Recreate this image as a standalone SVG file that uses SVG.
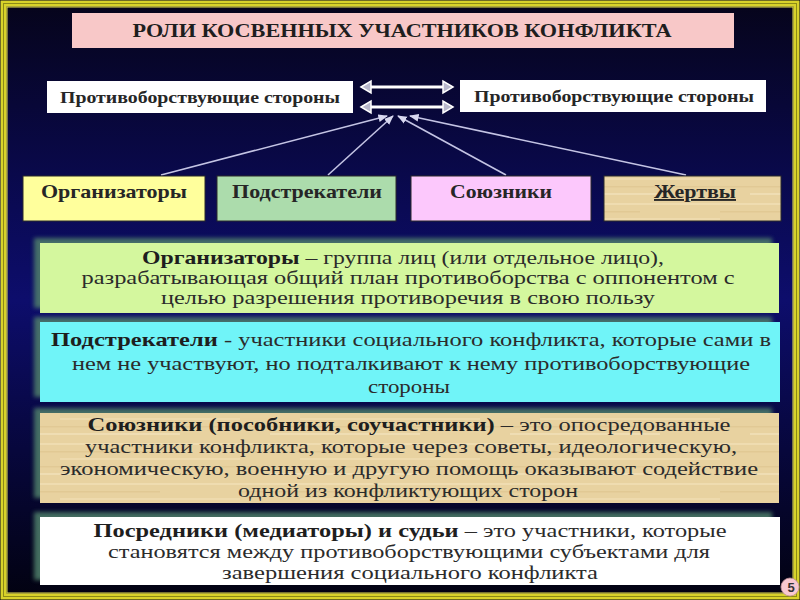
<svg xmlns="http://www.w3.org/2000/svg" width="800" height="600" viewBox="0 0 800 600">
<style>
.t{font-family:"Liberation Serif","Times New Roman",serif;fill:#2b2b2b;text-anchor:middle}
.b{font-weight:bold;fill:#1e1e1e}
.body{font-size:19px}
.cat{font-size:19px;font-weight:bold;fill:#262626}
.top{font-size:17px;font-weight:bold;fill:#262626}
.conn{stroke:#c4c4e4;stroke-width:1.6;fill:none}
.dbl{stroke:#ffffff;stroke-width:3;fill:none}
.head{fill:#b8b8cc;stroke:#ffffff;stroke-width:1.5}
.catbox{stroke:#2a2a2a;stroke-width:1}
.shadow{fill:#4f806a;opacity:0.85}
</style>
<defs>
<linearGradient id="bg" x1="0" y1="0" x2="0" y2="1">
<stop offset="0" stop-color="#06041a"/>
<stop offset="0.35" stop-color="#0a0a55"/>
<stop offset="0.5" stop-color="#0d0d6c"/>
<stop offset="0.7" stop-color="#080845"/>
<stop offset="1" stop-color="#020210"/>
</linearGradient>
<pattern id="papyrus" width="240" height="40" patternUnits="userSpaceOnUse">
<rect width="240" height="40" fill="#e8d2a0"/>
<rect y="3" width="240" height="2" fill="#f3e2bb" opacity="0.6"/>
<rect y="11" width="160" height="1.5" fill="#d9bf88" opacity="0.5"/>
<rect x="60" y="18" width="180" height="2" fill="#f2dfb5" opacity="0.6"/>
<rect y="26" width="240" height="1.5" fill="#d6bb85" opacity="0.4"/>
<rect x="30" y="33" width="150" height="2" fill="#f4e4c0" opacity="0.6"/>
</pattern>
<filter id="glow" x="-10%" y="-30%" width="120%" height="160%">
<feGaussianBlur stdDeviation="2"/>
</filter>
<marker id="ah" viewBox="0 0 10 10" refX="9" refY="5" markerWidth="6" markerHeight="6" orient="auto-start-reverse">
<path d="M0,1 L10,5 L0,9 z" fill="#d8d8f0"/>
</marker>
</defs>

<rect x="0" y="0" width="800" height="600" fill="url(#bg)"/>
<rect x="3.5" y="3.5" width="793" height="593" fill="none" stroke="#d8d22a" stroke-width="6"/>
<rect x="3.5" y="3.5" width="793" height="593" fill="none" stroke="#8c8a18" stroke-width="1"/>
<rect x="7" y="7" width="786" height="586" fill="none" stroke="#e8e250" stroke-width="1"/>

<g id="title">
<rect x="72" y="13" width="662" height="35" fill="#f8c8c8"/>
<text class="t b" x="402" y="37" font-size="19" textLength="539" lengthAdjust="spacingAndGlyphs">РОЛИ КОСВЕННЫХ УЧАСТНИКОВ КОНФЛИКТА</text>
</g>

<g id="side-left">
<rect x="47" y="81" width="306" height="32" fill="#ffffff"/>
<text class="t top" x="200" y="103" textLength="280" lengthAdjust="spacingAndGlyphs">Противоборствующие стороны</text>
</g>
<g id="side-right">
<rect x="460" y="80" width="306" height="32" fill="#ffffff"/>
<text class="t top" x="614" y="102" textLength="280" lengthAdjust="spacingAndGlyphs">Противоборствующие стороны</text>
</g>

<g id="connectors">
<line class="dbl" x1="368" y1="87" x2="446" y2="87"/>
<polygon class="head" points="361,87 371,81 371,93"/>
<polygon class="head" points="453,87 443,81 443,93"/>
<line class="dbl" x1="368" y1="107" x2="446" y2="107"/>
<polygon class="head" points="361,107 371,101 371,113"/>
<polygon class="head" points="453,107 443,101 443,113"/>
<line class="conn" x1="161" y1="175" x2="387" y2="116" marker-end="url(#ah)"/>
<line class="conn" x1="328" y1="175" x2="393" y2="116" marker-end="url(#ah)"/>
<line class="conn" x1="506" y1="175" x2="398" y2="116" marker-end="url(#ah)"/>
<line class="conn" x1="686" y1="175" x2="410" y2="116" marker-end="url(#ah)"/>
</g>

<g id="cat-organizers">
<rect class="catbox" x="23" y="176" width="182" height="45" fill="#ffff9c"/>
<text class="t cat" x="114" y="198" textLength="146" lengthAdjust="spacingAndGlyphs">Организаторы</text>
</g>
<g id="cat-instigators">
<rect class="catbox" x="217" y="176" width="179" height="45" fill="#acdcac"/>
<text class="t cat" x="307" y="198" textLength="150" lengthAdjust="spacingAndGlyphs">Подстрекатели</text>
</g>
<g id="cat-allies">
<rect class="catbox" x="411" y="176" width="180" height="45" fill="#fcc8fc"/>
<text class="t cat" x="501" y="198" textLength="102" lengthAdjust="spacingAndGlyphs">Союзники</text>
</g>
<g id="cat-victims">
<rect class="catbox" x="604" y="176" width="177" height="45" fill="url(#papyrus)"/>
<text class="t cat" x="695" y="198" textLength="82" lengthAdjust="spacingAndGlyphs" text-decoration="underline">Жертвы</text>
</g>

<g id="def-organizers">
<rect class="shadow" x="34" y="238" width="738" height="70" filter="url(#glow)"/>
<rect x="40" y="243" width="739" height="70" fill="#d4f79e"/>
<text class="t body" x="403" y="264" textLength="522" lengthAdjust="spacingAndGlyphs"><tspan class="b">Организаторы</tspan> – группа лиц (или отдельное лицо),</text>
<text class="t body" x="408" y="284" textLength="653" lengthAdjust="spacingAndGlyphs">разрабатывающая общий план противоборства с оппонентом с</text>
<text class="t body" x="408" y="304" textLength="494" lengthAdjust="spacingAndGlyphs">целью разрешения противоречия в свою пользу</text>
</g>

<g id="def-instigators">
<rect class="shadow" x="34" y="317" width="738" height="80" filter="url(#glow)"/>
<rect x="40" y="322" width="740" height="80" fill="#70f4f8"/>
<text class="t body" x="411" y="346" textLength="720" lengthAdjust="spacingAndGlyphs"><tspan class="b">Подстрекатели</tspan> - участники социального конфликта, которые сами в</text>
<text class="t body" x="411" y="370" textLength="678" lengthAdjust="spacingAndGlyphs">нем не участвуют, но подталкивают к нему противоборствующие</text>
<text class="t body" x="409" y="393" textLength="82" lengthAdjust="spacingAndGlyphs">стороны</text>
</g>

<g id="def-allies">
<rect class="shadow" x="34" y="408" width="738" height="90" filter="url(#glow)"/>
<rect x="40" y="413" width="739" height="90" fill="url(#papyrus)"/>
<text class="t body" x="409" y="431" textLength="643" lengthAdjust="spacingAndGlyphs"><tspan class="b">Союзники (пособники, соучастники)</tspan> – это опосредованные</text>
<text class="t body" x="411" y="453" textLength="652" lengthAdjust="spacingAndGlyphs">участники конфликта, которые через советы, идеологическую,</text>
<text class="t body" x="409" y="475" textLength="698" lengthAdjust="spacingAndGlyphs">экономическую, военную и другую помощь оказывают содействие</text>
<text class="t body" x="408" y="497" textLength="340" lengthAdjust="spacingAndGlyphs">одной из конфликтующих сторон</text>
</g>

<g id="def-mediators">
<rect class="shadow" x="34" y="512" width="738" height="68" filter="url(#glow)"/>
<rect x="40" y="517" width="740" height="68" fill="#ffffff"/>
<text class="t body" x="410" y="537" textLength="633" lengthAdjust="spacingAndGlyphs"><tspan class="b">Посредники (медиаторы) и судьи</tspan> – это участники, которые</text>
<text class="t body" x="409" y="558" textLength="602" lengthAdjust="spacingAndGlyphs">становятся между противоборствующими субъектами для</text>
<text class="t body" x="410" y="579" textLength="376" lengthAdjust="spacingAndGlyphs">завершения социального конфликта</text>
</g>

<g id="page-number">
<circle cx="790" cy="587" r="9" fill="#f8c8d0" stroke="#c09098" stroke-width="0.8"/>
<text x="791" y="592" font-family="Liberation Sans, Arial, sans-serif" font-size="13" font-weight="bold" fill="#333" text-anchor="middle">5</text>
</g>
</svg>
